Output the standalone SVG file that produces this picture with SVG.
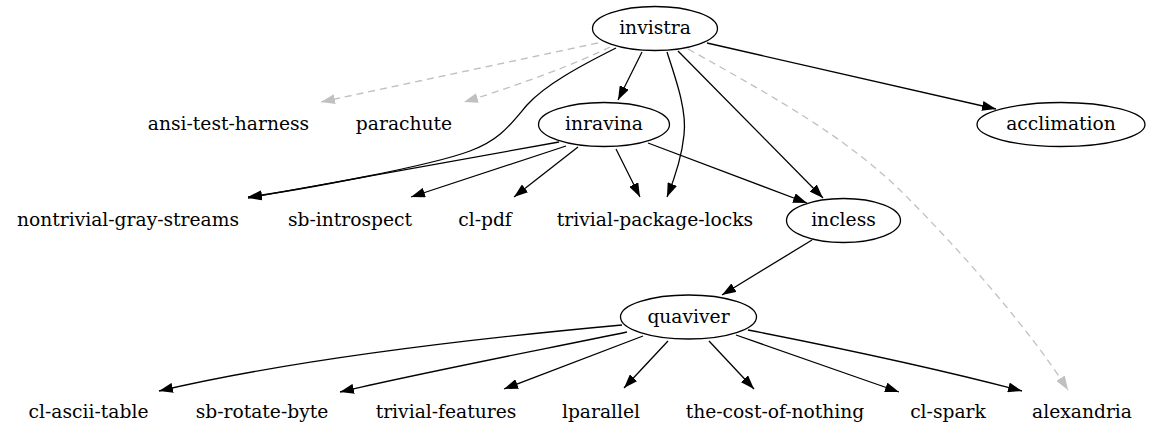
<svg xmlns="http://www.w3.org/2000/svg" width="1151" height="443" viewBox="0 0 1151 443">
<style>
text{font-family:"DejaVu Serif","Liberation Serif",serif;font-size:18.7px;fill:#000;text-anchor:middle}
ellipse{fill:none;stroke:#000;stroke-width:1.3}
.e{fill:none;stroke:#000;stroke-width:1.3}
.d{fill:none;stroke:#c0c0c0;stroke-width:1.3;stroke-dasharray:7,5}
</style>
<defs>
<marker id="ah" viewBox="0 0 14 10" refX="14" refY="5" markerWidth="14" markerHeight="10" markerUnits="userSpaceOnUse" orient="auto"><path d="M0,0 L14,5 L0,10 z" fill="#000"/></marker>
<marker id="ag" viewBox="0 0 14 10" refX="14" refY="5" markerWidth="14" markerHeight="10" markerUnits="userSpaceOnUse" orient="auto"><path d="M0,0 L14,5 L0,10 z" fill="#c0c0c0"/></marker>
</defs>
<rect width="1151" height="443" fill="#fff"/>
<g id="connectors">
<path class="d" marker-end="url(#ag)" d="M598,43 L321,102"/>
<path class="d" marker-end="url(#ag)" d="M610,47 C580,62 520,85 464,102"/>
<path class="e" marker-end="url(#ah)" d="M616,48 C580,66 545,85 527,105 C510,125 500,140 470,151 C430,166 300,190 248,197"/>
<path class="e" marker-end="url(#ah)" d="M642,52 L618,100"/>
<path class="e" marker-end="url(#ah)" d="M667,52 C676,80 687,110 684,135 C682,155 676,175 667,197"/>
<path class="e" marker-end="url(#ah)" d="M678,51 L823,198"/>
<path class="e" marker-end="url(#ah)" d="M707,43 L996,109"/>
<path class="d" marker-end="url(#ag)" d="M688,49 C780,100 850,140 905,195 C960,250 1030,330 1068,390"/>
<path class="e" marker-end="url(#ah)" d="M559,142 L248,198"/>
<path class="e" marker-end="url(#ah)" d="M566,146 L411,197"/>
<path class="e" marker-end="url(#ah)" d="M578,147 L514,197"/>
<path class="e" marker-end="url(#ah)" d="M616,149 L640,197"/>
<path class="e" marker-end="url(#ah)" d="M648,143 L807,203"/>
<path class="e" marker-end="url(#ah)" d="M812,240 L722,295"/>
<path class="e" marker-end="url(#ah)" d="M622,325 C480,338 300,358 159,391"/>
<path class="e" marker-end="url(#ah)" d="M627,332 C540,350 420,373 340,392"/>
<path class="e" marker-end="url(#ah)" d="M643,336 L504,389"/>
<path class="e" marker-end="url(#ah)" d="M668,341 L624,388"/>
<path class="e" marker-end="url(#ah)" d="M709,341 L754,389"/>
<path class="e" marker-end="url(#ah)" d="M736,335 L899,392"/>
<path class="e" marker-end="url(#ah)" d="M748,330 C850,350 950,372 1022,391"/>
</g>
<g id="invistra"><ellipse cx="655" cy="28.5" rx="62.5" ry="22"/><text x="655" y="34.3">invistra</text></g>
<g id="ansi-test-harness"><text x="228.5" y="130.3">ansi-test-harness</text></g>
<g id="parachute"><text x="404" y="130.3">parachute</text></g>
<g id="inravina"><ellipse cx="604" cy="124.5" rx="65.5" ry="22"/><text x="604" y="130.3">inravina</text></g>
<g id="acclimation"><ellipse cx="1061" cy="124.5" rx="84" ry="22"/><text x="1061" y="130.3">acclimation</text></g>
<g id="nontrivial-gray-streams"><text x="128" y="226.3">nontrivial-gray-streams</text></g>
<g id="sb-introspect"><text x="350" y="226.3">sb-introspect</text></g>
<g id="cl-pdf"><text x="485" y="226.3">cl-pdf</text></g>
<g id="trivial-package-locks"><text x="655" y="226.3">trivial-package-locks</text></g>
<g id="incless"><ellipse cx="843.5" cy="220.5" rx="57" ry="22"/><text x="843.5" y="226.3">incless</text></g>
<g id="quaviver"><ellipse cx="688.5" cy="317" rx="68" ry="22"/><text x="688.5" y="322.8">quaviver</text></g>
<g id="cl-ascii-table"><text x="88.5" y="418.3">cl-ascii-table</text></g>
<g id="sb-rotate-byte"><text x="262" y="418.3">sb-rotate-byte</text></g>
<g id="trivial-features"><text x="446" y="418.3">trivial-features</text></g>
<g id="lparallel"><text x="601" y="418.3">lparallel</text></g>
<g id="the-cost-of-nothing"><text x="775" y="418.3">the-cost-of-nothing</text></g>
<g id="cl-spark"><text x="948" y="418.3">cl-spark</text></g>
<g id="alexandria"><text x="1082" y="418.3">alexandria</text></g>
</svg>
